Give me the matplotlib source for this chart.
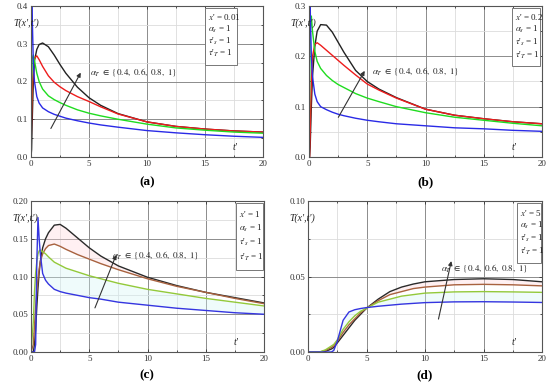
import numpy as np
import matplotlib
matplotlib.use("Agg")
import matplotlib.pyplot as plt
from matplotlib.patches import Rectangle
from matplotlib.ticker import MultipleLocator

plt.rcParams['font.family'] = ['Liberation Serif', 'DejaVu Serif']
plt.rcParams['mathtext.fontset'] = 'stix'

# ---- data ----
t_ab = [0, 0.05, 0.1, 0.2, 0.3, 0.5, 0.7, 1, 1.5, 2, 2.5, 3, 4, 5, 6, 7.5, 10, 12.5, 15, 17.5, 20]

a_black = [0, 0.02, 0.09, 0.20, 0.255, 0.285, 0.298, 0.302, 0.292, 0.27, 0.245, 0.222, 0.185, 0.157, 0.137, 0.115, 0.093, 0.081, 0.074, 0.069, 0.066]
a_red = [0, 0.10, 0.17, 0.235, 0.262, 0.268, 0.258, 0.24, 0.215, 0.198, 0.186, 0.176, 0.16, 0.147, 0.133, 0.114, 0.093, 0.081, 0.074, 0.069, 0.066]
a_green = [0, 0.20, 0.26, 0.27, 0.255, 0.222, 0.20, 0.18, 0.162, 0.152, 0.144, 0.137, 0.125, 0.116, 0.109, 0.10, 0.087, 0.077, 0.071, 0.066, 0.063]
a_blue = [0, 0.55, 0.38, 0.25, 0.20, 0.16, 0.143, 0.13, 0.12, 0.113, 0.108, 0.103, 0.096, 0.09, 0.085, 0.079, 0.07, 0.064, 0.059, 0.055, 0.052]

b_black = [0, 0, 0.02, 0.10, 0.16, 0.22, 0.25, 0.263, 0.262, 0.248, 0.228, 0.208, 0.172, 0.150, 0.135, 0.118, 0.095, 0.083, 0.076, 0.070, 0.066]
b_red = [0, 0, 0.05, 0.15, 0.20, 0.224, 0.227, 0.222, 0.212, 0.202, 0.192, 0.182, 0.163, 0.145, 0.133, 0.117, 0.095, 0.083, 0.076, 0.070, 0.066]
b_green = [0, 0.12, 0.25, 0.28, 0.25, 0.21, 0.19, 0.176, 0.162, 0.152, 0.144, 0.138, 0.126, 0.117, 0.11, 0.10, 0.088, 0.079, 0.073, 0.067, 0.062]
b_blue = [0, 0.40, 0.30, 0.20, 0.16, 0.125, 0.11, 0.10, 0.094, 0.089, 0.085, 0.082, 0.077, 0.073, 0.07, 0.066, 0.062, 0.058, 0.056, 0.053, 0.051]

t_c = [0, 0.2, 0.3, 0.4, 0.5, 0.6, 0.7, 0.8, 1, 1.25, 1.5, 2, 2.5, 3, 4, 5, 6, 7.5, 10, 12.5, 15, 17.5, 20]
c_black = [0, 0, 0.01, 0.03, 0.06, 0.085, 0.105, 0.12, 0.138, 0.15, 0.158, 0.168, 0.169, 0.164, 0.151, 0.138, 0.127, 0.114, 0.099, 0.088, 0.079, 0.072, 0.065]
c_brown = [0, 0.01, 0.035, 0.06, 0.08, 0.097, 0.11, 0.12, 0.13, 0.137, 0.141, 0.143, 0.14, 0.136, 0.129, 0.123, 0.117, 0.109, 0.097, 0.087, 0.079, 0.071, 0.064]
c_green = [0, 0.04, 0.08, 0.105, 0.12, 0.13, 0.134, 0.135, 0.133, 0.13, 0.126, 0.119, 0.115, 0.111, 0.106, 0.101, 0.097, 0.091, 0.083, 0.077, 0.071, 0.066, 0.061]
c_blue = [0, 0, 0, 0.01, 0.12, 0.178, 0.15, 0.13, 0.104, 0.095, 0.09, 0.083, 0.08, 0.078, 0.075, 0.072, 0.07, 0.066, 0.062, 0.058, 0.055, 0.052, 0.05]

t_d = [0, 1, 1.5, 2, 2.2, 2.5, 3, 3.5, 4, 4.5, 5, 6, 7, 8, 9, 10, 12.5, 15, 17.5, 20]
d_black = [0, 0, 0.0005, 0.002, 0.003, 0.006, 0.011, 0.016, 0.021, 0.025, 0.029, 0.035, 0.040, 0.043, 0.045, 0.0465, 0.048, 0.0485, 0.048, 0.0465]
d_brown = [0, 0, 0.001, 0.003, 0.004, 0.007, 0.013, 0.018, 0.022, 0.026, 0.029, 0.034, 0.038, 0.040, 0.042, 0.043, 0.0445, 0.0448, 0.0445, 0.0438]
d_green = [0, 0, 0.0015, 0.004, 0.005, 0.008, 0.015, 0.020, 0.024, 0.027, 0.029, 0.033, 0.035, 0.037, 0.038, 0.039, 0.0398, 0.040, 0.0398, 0.0395]
d_blue = [0, 0, 0, 0, 0.001, 0.007, 0.021, 0.0265, 0.028, 0.0288, 0.0294, 0.0303, 0.031, 0.0317, 0.0322, 0.0327, 0.0332, 0.0333, 0.0331, 0.0328]

x_primes = ["0.01", "0.2", "1", "5"]
panel_names = ["(a)", "(b)", "(c)", "(d)"]
ymaxes = [0.4, 0.3, 0.2, 0.1]
ymajor = [0.1, 0.1, 0.05, 0.05]
yfmt = ["{:.1f}", "{:.1f}", "{:.2f}", "{:.2f}"]
alpha_label = r"$\alpha_T\ \in\ \{0.4,\ 0.6,\ 0.8,\ 1\}$"

fig = plt.figure(figsize=(5.5, 3.91), dpi=100)
W, H = 550, 391

def add_ax(x0, x1, ytop, ybot):
    return fig.add_axes([x0 / W, 1 - ybot / H, (x1 - x0) / W, (ybot - ytop) / H])

axes = [add_ax(31, 263, 6, 157), add_ax(309, 542, 6, 157),
        add_ax(31, 264, 201, 352), add_ax(308, 542, 201, 352)]

series = [
    (t_ab, [a_black, a_red, a_green, a_blue], ['#222222', '#ee1c1c', '#1fdc1f', '#2a2ae6']),
    (t_ab, [b_black, b_red, b_green, b_blue], ['#222222', '#ee1c1c', '#1fdc1f', '#2a2ae6']),
    (t_c, [c_black, c_brown, c_green, c_blue], ['#2a2a2a', '#a8623f', '#93c93a', '#3535e0']),
    (t_d, [d_black, d_brown, d_green, d_blue], ['#2a2a2a', '#a8623f', '#93c93a', '#3535e0']),
]

# legend box (axes coords: x0, x1, y0, y1) and arrow/text positions in data coords
boxes = [(0.75, 0.888, 0.61, 0.987), (0.871, 0.991, 0.60, 0.987),
         (0.88, 0.996, 0.54, 0.987), (0.893, 0.996, 0.59, 0.987)]
arrows = [((1.6, 0.069), (4.4, 0.23), (5.1, 0.226)),
          ((2.4, 0.074), (4.9, 0.176), (5.4, 0.171)),
          ((5.4, 0.055), (7.4, 0.132), (6.95, 0.129)),
          ((11.1, 0.020), (12.3, 0.062), (11.4, 0.0553))]

for i, ax in enumerate(axes):
    t, ys, cols = series[i]
    if i >= 2:
        ax.fill_between(t, ys[0], ys[1], color='#ffd6dc', alpha=0.35, lw=0)
        ax.fill_between(t, ys[2], ys[3], color='#d2f4f6', alpha=0.35, lw=0)
    for y, c in zip(ys, cols):
        ax.plot(t, y, color=c, lw=1.0)

    ax.set_xlim(0, 20)
    ax.set_ylim(0, ymaxes[i])
    ax.xaxis.set_major_locator(MultipleLocator(5))
    ax.xaxis.set_minor_locator(MultipleLocator(2.5))
    ax.yaxis.set_major_locator(MultipleLocator(ymajor[i]))
    ax.yaxis.set_minor_locator(MultipleLocator(ymajor[i] / 2))
    ax.grid(which='major', color='#8c8c8c', lw=0.7)
    ax.grid(which='minor', color='#dcdcdc', lw=0.6)
    ax.set_axisbelow(True)
    ax.set_yticks(np.arange(0, ymaxes[i] + 1e-9, ymajor[i]))
    ax.set_yticklabels([yfmt[i].format(v) for v in np.arange(0, ymaxes[i] + 1e-9, ymajor[i])])
    ax.tick_params(which='both', direction='in', top=True, right=True, labelsize=6.5,
                   length=2, width=0.6, pad=2, colors='#333333')
    ax.tick_params(which='minor', length=1.2)
    for s in ax.spines.values():
        s.set_color('#555555')
        s.set_linewidth(0.8)

    ax.text(-0.078, 0.885, "T(x',t')", transform=ax.transAxes, fontsize=7,
            fontstyle='italic', ha='left', va='center', color='#222222')
    ax.text(0.87, 0.06, "t'", transform=ax.transAxes, fontsize=7,
            fontstyle='italic', ha='left', va='center', color='#222222')

    bx0, bx1, by0, by1 = boxes[i]
    ax.add_patch(Rectangle((bx0, by0), bx1 - bx0, by1 - by0, transform=ax.transAxes,
                           facecolor='white', edgecolor='#777777', lw=0.7, zorder=5))
    lines = [r"$x$' = " + x_primes[i], r"$\alpha_s$ = 1",
             r"$\tau$'${}_s$ = 1", r"$\tau$'${}_T$ = 1"]
    for k, s in enumerate(lines):
        ax.text(bx0 + 0.012, by1 - (by1 - by0) * (0.16 + 0.215 * k), s, transform=ax.transAxes,
                fontsize=6.5, ha='left', va='center', zorder=6, color='#222222')

    (xs, ys0), (xe, ye), (xt, yt) = arrows[i]
    ax.annotate('', xy=(xe, ye), xytext=(xs, ys0),
                arrowprops=dict(arrowstyle='-|>', color='#333333', lw=0.8, mutation_scale=6))
    ax.text(xt, yt, alpha_label, fontsize=6.5, ha='left', va='center', color='#222222')

label_pos = [(147, 182), (425, 182), (147, 375), (425, 375)]
for (px, py), name in zip(label_pos, panel_names):
    fig.text(px / W, 1 - py / H, name, fontsize=9.5, fontweight='bold', ha='center', va='center')

fig.savefig("out.png", dpi=100)
